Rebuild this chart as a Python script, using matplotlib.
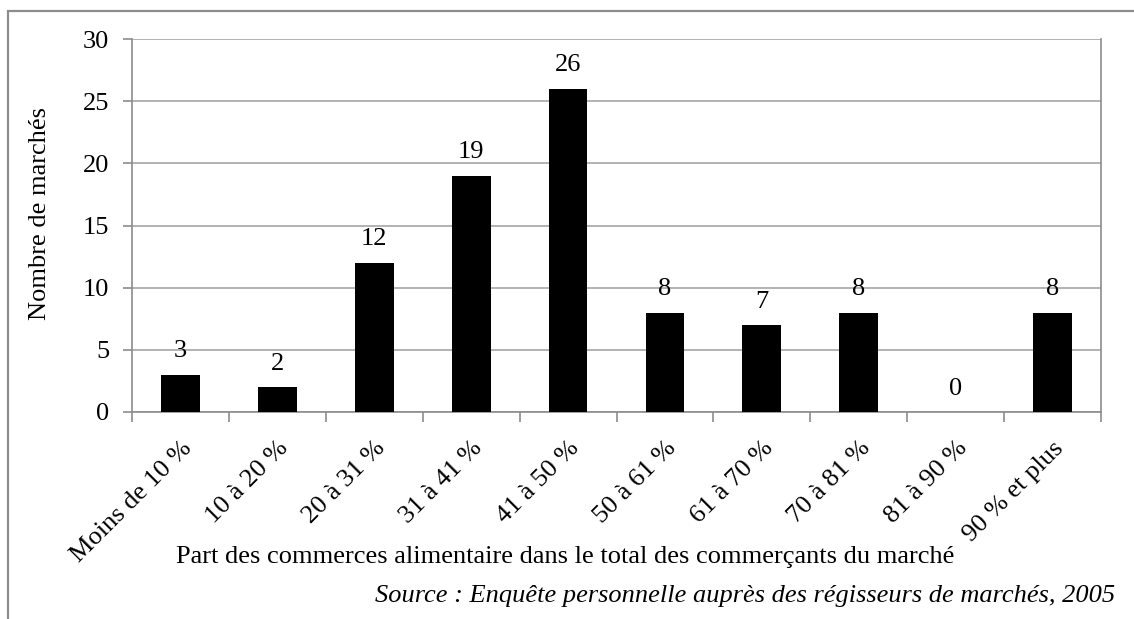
import matplotlib
matplotlib.use('Agg')
from matplotlib import pyplot as plt
from matplotlib.patches import Rectangle

# categories and counts
categories = ['Moins de 10 %', '10 à 20 %', '20 à 31 %', '31 à 41 %', '41 à 50 %',
              '50 à 61 %', '61 à 70 %', '70 à 81 %', '81 à 90 %', '90 % et plus']
counts = [3, 2, 12, 19, 26, 8, 7, 8, 0, 8]
y_ticks = [0, 5, 10, 15, 20, 25, 30]

plt.rcParams['font.family'] = ['Liberation Serif', 'DejaVu Serif']
FS = 19

W, H = 1134, 619
fig = plt.figure(figsize=(W / 100, H / 100), dpi=100)

# outer frame (runs off the right and bottom edges)
fig.patches.append(Rectangle((8 / W, -0.1), 1.2, (H - 11) / H + 0.1,
                             transform=fig.transFigure, fill=False,
                             edgecolor='#8c8c8c', linewidth=1.6))

ax = fig.add_axes([132 / W, 1 - 412 / H, (1101 - 132) / W, (412 - 39) / H])

x = list(range(len(categories)))
ax.bar(x, counts, width=0.4, color='black', zorder=3)
for xi, v in zip(x, counts):
    ax.annotate(str(v), (xi, v), xytext=(0, 12.5), textcoords='offset points',
                ha='center', va='baseline', fontsize=FS)

ax.set_xlim(-0.5, len(categories) - 0.5)
ax.set_ylim(0, 30)
ax.set_yticks(y_ticks)
ax.yaxis.grid(True, color='#a6a6a6', linewidth=1.2, zorder=0)
ax.set_axisbelow(True)

ax.set_xticks([i - 0.5 for i in range(len(categories) + 1)])
ax.set_xticklabels([])
ax.set_xticks(x, minor=True)
ax.set_xticklabels(categories, minor=True, rotation=45, ha='right',
                   rotation_mode='anchor', fontsize=FS)
ax.tick_params(axis='x', which='minor', length=0, pad=18)
ax.tick_params(axis='x', which='major', length=7, color='#8c8c8c', width=1.2)
ax.tick_params(axis='y', length=6.5, color='#8c8c8c', width=1.2, labelsize=FS, pad=10)

for side in ['left', 'bottom', 'right']:
    ax.spines[side].set_color('#8c8c8c')
    ax.spines[side].set_linewidth(1.2)
ax.spines['top'].set_visible(False)

fig.text(40 / W, 1 - 214 / H, 'Nombre de marchés', rotation=90,
         ha='center', va='center', fontsize=FS)
fig.text(565 / W, 1 - 563 / H,
         'Part des commerces alimentaire dans le total des commerçants du marché',
         ha='center', va='baseline', fontsize=FS)
fig.text(1115 / W, 1 - 602 / H,
         'Source : Enquête personnelle auprès des régisseurs de marchés, 2005',
         ha='right', va='baseline', fontsize=FS, style='italic')

fig.savefig('out.png', dpi=100)
